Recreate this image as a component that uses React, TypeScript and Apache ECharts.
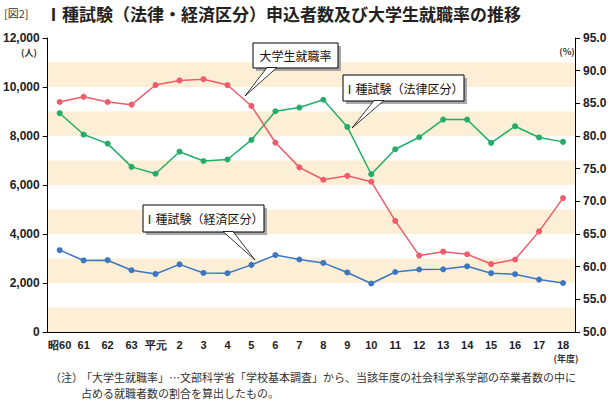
import React, { useEffect, useRef } from "react";
import * as echarts from "echarts";

const categories = ["昭60", "61", "62", "63", "平元", "2", "3", "4", "5", "6", "7", "8", "9", "10", "11", "12", "13", "14", "15", "16", "17", "18"];
const lawApplicants = [8930, 8060, 7690, 6740, 6460, 7360, 6980, 7040, 7840, 9010, 9160, 9480, 8370, 6440, 7460, 7950, 8670, 8670, 7720, 8400, 7940, 7760];
const econApplicants = [3340, 2920, 2930, 2520, 2370, 2760, 2410, 2400, 2740, 3140, 2960, 2820, 2430, 1980, 2450, 2550, 2560, 2680, 2400, 2360, 2140, 2000];
const employmentRate = [85.2, 86.0, 85.2, 84.8, 87.8, 88.5, 88.7, 87.8, 84.6, 79.0, 75.2, 73.3, 73.9, 73.0, 67.0, 61.7, 62.3, 61.9, 60.4, 61.1, 65.4, 70.5];

const titleTag = "[図2]";
const titleText = "Ⅰ種試験（法律・経済区分）申込者数及び大学生就職率の推移";
const noteHead = "（注）";
const noteLine1 = "「大学生就職率」…文部科学省「学校基本調査」から、当該年度の社会科学系学部の卒業者数の中に";
const noteLine2 = "占める就職者数の割合を算出したもの。";

const JP = '"Noto Sans CJK JP", "Noto Sans", sans-serif';
const NUM = '"Liberation Sans", Arial, sans-serif';

function callout(x: number, y: number, w: number, h: number, text: string, b1: number, b2: number, tx: number, ty: number) {
  return [
    { type: "rect", shape: { x: x + 3, y: y + 3, width: w, height: h }, style: { fill: "#a8a8a8" }, z: 100 },
    { type: "rect", shape: { x, y, width: w, height: h }, style: { fill: "#fff", stroke: "#000", lineWidth: 1 }, z: 101 },
    { type: "polygon", shape: { points: [[b1, y + h - 0.5], [tx, ty], [b2, y + h - 0.5]] }, style: { fill: "#fff", stroke: "#000", lineWidth: 0.8 }, z: 102 },
    { type: "text", x: x + w / 2, y: y + h / 2, style: { text, fontSize: 12, fontFamily: JP, fill: "#111", align: "center", verticalAlign: "middle" }, z: 103 },
  ];
}

export default function App() {
  const ref = useRef<HTMLDivElement>(null);
  useEffect(() => {
    document.body.style.margin = "0";
    const chart = echarts.init(ref.current!, null, { renderer: "svg" });
    const axisLabelStyle = { color: "#222", fontSize: 12, fontWeight: "bold" as const, fontFamily: NUM };
    chart.setOption({
      animation: false,
      backgroundColor: "#fff",
      textStyle: { fontFamily: JP },
      grid: { left: 45, right: 35, top: 38, bottom: 70, containLabel: false },
      xAxis: {
        type: "category",
        data: categories,
        boundaryGap: true,
        axisLine: { lineStyle: { color: "#000", width: 1 } },
        axisTick: { alignWithLabel: true, length: 4, lineStyle: { color: "#000" } },
        axisLabel: { color: "#222", fontSize: 11, fontWeight: "bold", fontFamily: NUM, margin: 7, interval: 0 },
      },
      yAxis: [
        {
          type: "value", min: 0, max: 12000, interval: 2000, position: "left",
          axisLine: { show: true, lineStyle: { color: "#000" } },
          axisTick: { show: true, length: 5, lineStyle: { color: "#000" } },
          axisLabel: { ...axisLabelStyle, margin: 8, formatter: (v: number) => v.toLocaleString("en-US") },
          splitLine: { show: false },
        },
        {
          type: "value", min: 50, max: 95, interval: 5, position: "right",
          axisLine: { show: true, lineStyle: { color: "#000" } },
          axisTick: { show: true, length: 5, lineStyle: { color: "#000" } },
          axisLabel: { ...axisLabelStyle, margin: 8, formatter: (v: number) => v.toFixed(1) },
          splitLine: { show: false },
        },
        {
          type: "value", min: 0, max: 12000, interval: 1000, position: "left",
          axisLine: { show: false }, axisTick: { show: false }, axisLabel: { show: false },
          splitLine: { show: false },
          splitArea: { show: true, areaStyle: { color: ["#fcefd6", "rgba(255,255,255,0)"] } },
        },
      ],
      series: [
        {
          name: "大学生就職率", type: "line", yAxisIndex: 1, data: employmentRate,
          symbol: "circle", symbolSize: 6, itemStyle: { color: "#ef5b6b" }, lineStyle: { color: "#ef5b6b", width: 1.5 }, z: 5,
        },
        {
          name: "Ⅰ種試験（法律区分）", type: "line", yAxisIndex: 0, data: lawApplicants,
          symbol: "circle", symbolSize: 6, itemStyle: { color: "#23ad68" }, lineStyle: { color: "#23ad68", width: 1.5 }, z: 4,
        },
        {
          name: "Ⅰ種試験（経済区分）", type: "line", yAxisIndex: 0, data: econApplicants,
          symbol: "circle", symbolSize: 6, itemStyle: { color: "#3c76c2" }, lineStyle: { color: "#3c76c2", width: 1.5 }, z: 4,
        },
      ],
      graphic: [
        { type: "text", x: 4, y: 13, style: { text: titleTag, fontSize: 11, fontFamily: JP, fill: "#333", verticalAlign: "middle" } },
        { type: "text", x: 45, y: 13, style: { text: titleText, fontSize: 17, fontWeight: "bold", fontFamily: JP, fill: "#222", verticalAlign: "middle" } },
        { type: "text", x: 29, y: 52, style: { text: "(人)", fontSize: 9, fontWeight: "bold", fontFamily: JP, fill: "#333", align: "center", verticalAlign: "middle" } },
        { type: "text", x: 567, y: 51, style: { text: "(%)", fontSize: 9, fontWeight: "bold", fontFamily: JP, fill: "#333", align: "center", verticalAlign: "middle" } },
        { type: "text", x: 566, y: 358, style: { text: "(年度)", fontSize: 9, fontWeight: "bold", fontFamily: JP, fill: "#333", align: "center", verticalAlign: "middle" } },
        ...callout(253, 43, 85, 25, "大学生就職率", 267, 277, 245, 96),
        ...callout(343, 75, 121, 26, "Ⅰ種試験（法律区分）", 374, 384, 352, 128),
        ...callout(143, 205, 121, 27, "Ⅰ種試験（経済区分）", 223, 233, 255, 260),
        { type: "text", x: 50, y: 377, style: { text: noteHead, fontSize: 11, fontFamily: JP, fill: "#333", verticalAlign: "middle" } },
        { type: "text", x: 81, y: 377, style: { text: noteLine1, fontSize: 11, fontFamily: JP, fill: "#333", verticalAlign: "middle" } },
        { type: "text", x: 81, y: 393, style: { text: noteLine2, fontSize: 11, fontFamily: JP, fill: "#333", verticalAlign: "middle" } },
      ],
    });
    return () => chart.dispose();
  }, []);
  return <div ref={ref} style={{ width: 610, height: 402 }} />;
}
